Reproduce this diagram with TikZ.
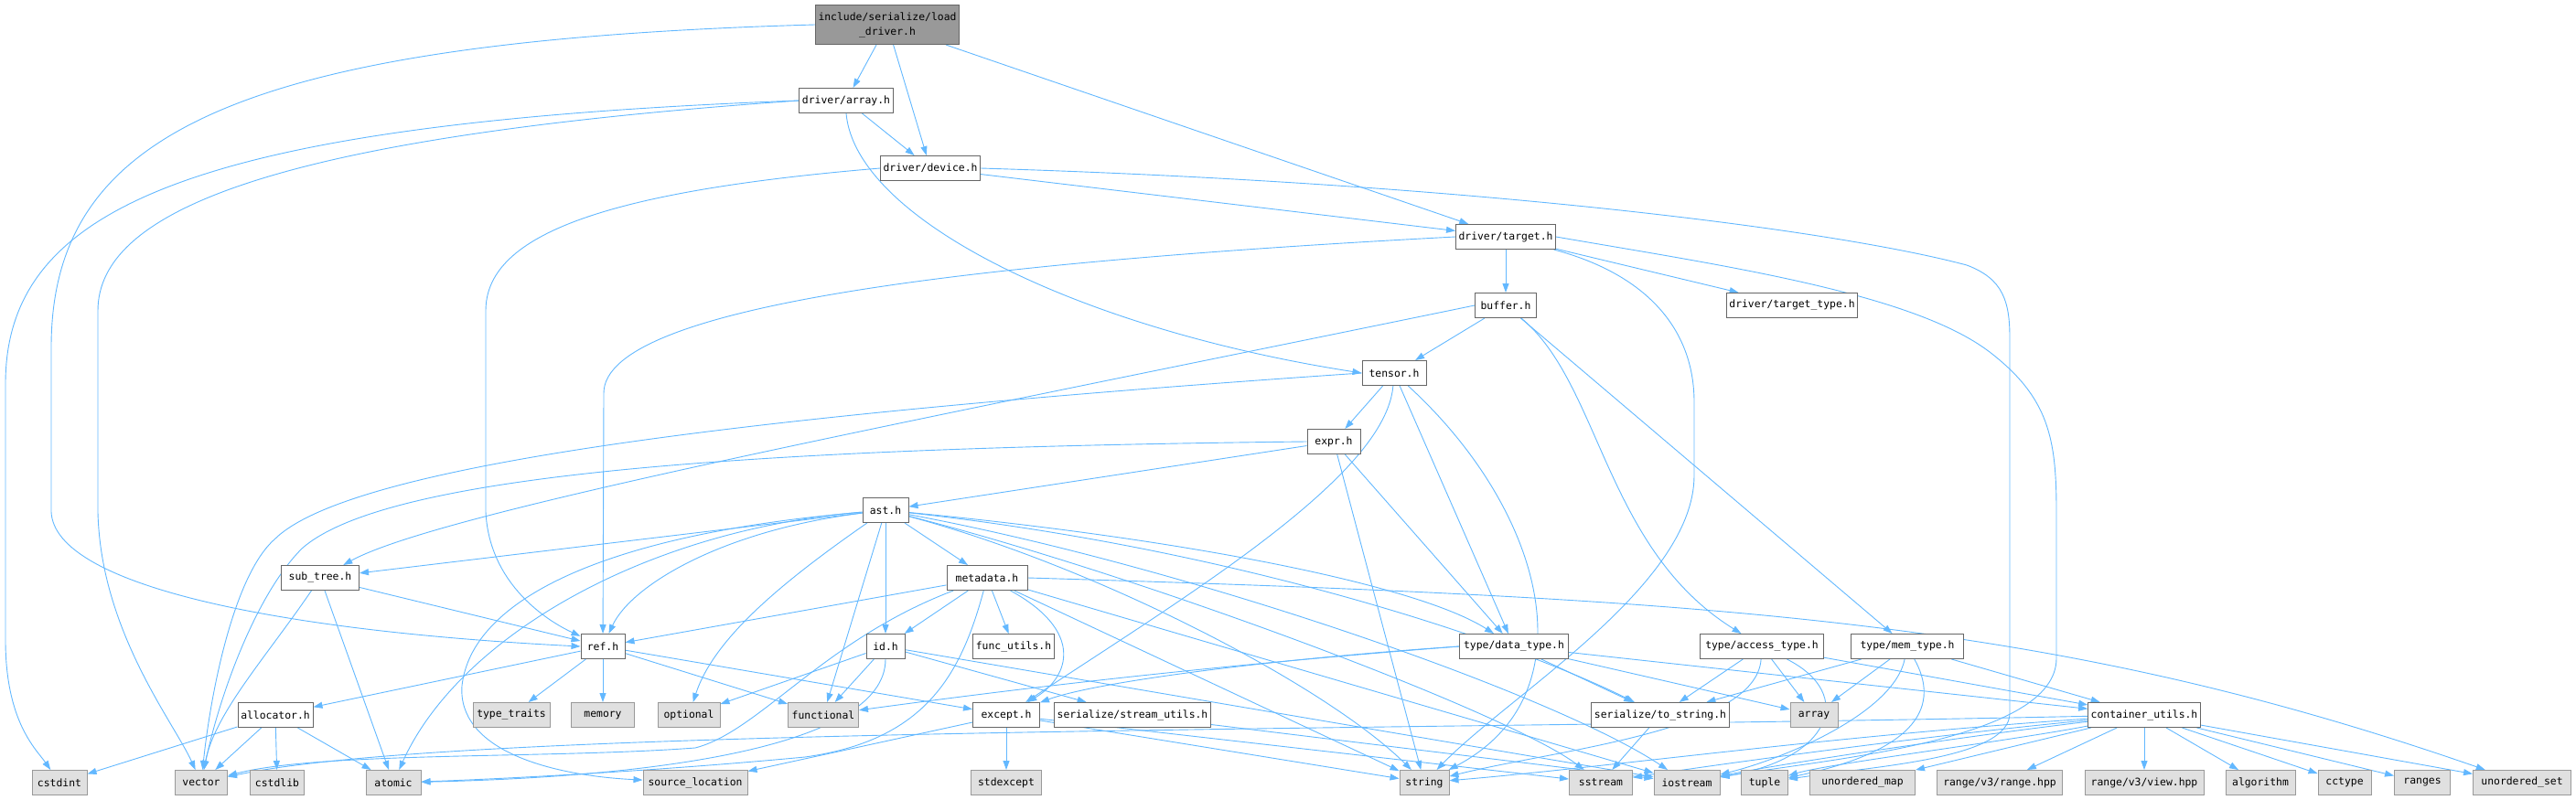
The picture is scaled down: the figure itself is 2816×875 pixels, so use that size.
\documentclass[tikz,border=0pt]{standalone}
\usepackage{fontspec}
\setmonofont{DejaVu Sans Mono}
\usepackage{xcolor}
\usepackage{tikz}
\usetikzlibrary{arrows.meta,backgrounds}

\definecolor{edgeblue}{HTML}{63B8FF}
\definecolor{nodeline}{HTML}{666666}
\definecolor{sysfill}{HTML}{E0E0E0}
\definecolor{sysline}{HTML}{999999}
\definecolor{rootfill}{HTML}{999999}

\begin{document}
\begin{tikzpicture}[
      x=1pt, y=-1pt,
      every node/.style = {font=\ttfamily\fontsize{11.4}{16}\selectfont,
                           minimum height=27pt, inner xsep=3pt, inner ysep=0pt,
                           line width=1pt},
      file/.style = {draw=nodeline, fill=white, minimum width=#1},
      sys/.style  = {draw=sysline, fill=sysfill, minimum width=#1},
      root/.style = {draw=nodeline, fill=rootfill, minimum width=#1,
                     minimum height=43pt, align=center},
      dep/.style  = {-{Triangle[length=10pt, width=7pt]}, draw=edgeblue,
                     line width=0.9pt}
    ]
    \useasboundingbox (0,0) rectangle (2816,875);

    \node (root)      [root=145pt] at (970,27)   {include/serialize/load\\\_driver.h};
    \node (arrayh)    [file=100pt] at (925,110)  {driver/array.h};
    \node (device)    [file=108pt] at (1017,184) {driver/device.h};
    \node (target)    [file=103pt] at (1646,259) {driver/target.h};
    \node (buffer)    [file=67pt]  at (1646,334) {buffer.h};
    \node (ttype)     [file=136pt] at (1959,334) {driver/target\_type.h};
    \node (tensor)    [file=70pt]  at (1524,408) {tensor.h};
    \node (expr)      [file=58pt]  at (1458,483) {expr.h};
    \node (ast)       [file=50pt]  at (968,558)  {ast.h};
    \node (subtree)   [file=85pt]  at (350,632)  {sub\_tree.h};
    \node (metadata)  [file=88pt]  at (1079,632) {metadata.h};
    \node (ref)       [file=48pt]  at (659,707)  {ref.h};
    \node (id)        [file=42pt]  at (968,707)  {id.h};
    \node (funcutils) [file=88pt]  at (1108,707) {func\_utils.h};
    \node (dtype)     [file=119pt] at (1655,707) {type/data\_type.h};
    \node (atype)     [file=135pt] at (1926,707) {type/access\_type.h};
    \node (mtype)     [file=123pt] at (2085,707) {type/mem\_type.h};

    \node (alloc)      [file=82pt]  at (301,782)  {allocator.h};
    \node (traits)     [sys=84pt]   at (559,782)  {type\_traits};
    \node (memory)     [sys=69pt]   at (659,782)  {memory};
    \node (optional)   [sys=68pt]   at (753,782)  {optional};
    \node (functional) [sys=77pt]   at (900,782)  {functional};
    \node (except)     [file=73pt]  at (1100,782) {except.h};
    \node (streamu)    [file=157pt] at (1238,782) {serialize/stream\_utils.h};
    \node (tostr)      [file=135pt] at (1815,782) {serialize/to\_string.h};
    \node (array)      [sys=52pt]   at (1983,782) {array};
    \node (cutils)     [file=119pt] at (2344,782) {container\_utils.h};

    \node (cstdint)   [sys=60pt]  at (65,856)   {cstdint};
    \node (vector)    [sys=57pt]  at (220,856)  {vector};
    \node (cstdlib)   [sys=59pt]  at (303,856)  {cstdlib};
    \node (atomic)    [sys=60pt]  at (430,856)  {atomic};
    \node (srcloc)    [sys=114pt] at (760,856)  {source\_location};
    \node (stdexcept) [sys=77pt]  at (1100,856) {stdexcept};
    \node (string)    [sys=54pt]  at (1557,856) {string};
    \node (sstream)   [sys=69pt]  at (1750,856) {sstream};
    \node (iostream)  [sys=72pt]  at (1844,856) {iostream};
    \node (tuple)     [sys=51pt]  at (1929,856) {tuple};
    \node (umap)      [sys=115pt] at (2036,856) {unordered\_map};
    \node (rrange)    [sys=137pt] at (2186,856) {range/v3/range.hpp};
    \node (rview)     [sys=130pt] at (2344,856) {range/v3/view.hpp};
    \node (algorithm) [sys=76pt]  at (2471,856) {algorithm};
    \node (cctype)    [sys=58pt]  at (2563,856) {cctype};
    \node (ranges)    [sys=61pt]  at (2648,856) {ranges};
    \node (uset)      [sys=107pt] at (2757,856) {unordered\_set};

    \begin{scope}[on background layer]
    \draw[dep] (root) -- (arrayh);
    \draw[dep] (root) -- (device);
    \draw[dep] (root) -- (target);
    \draw[dep] (root.west) .. controls (250,45) and (56,150) .. (56,380) -- (56,560)
               .. controls (60,640) and (300,690) .. (ref.west);

    \draw[dep] (arrayh) -- (device);
    \draw[dep] (arrayh.south) .. controls (935,240) and (1180,360) .. (tensor.west);
    \draw[dep] (arrayh.west) .. controls (200,135) and (6,230) .. (6,420) -- (6,700)
               .. controls (6,790) and (40,820) .. (cstdint);
    \draw[dep] (arrayh.west) .. controls (300,150) and (107,230) .. (107,340) -- (107,560)
               .. controls (110,690) and (190,790) .. (vector);

    \draw[dep] (device) -- (target);
    \draw[dep] (device.west) .. controls (650,210) and (531,260) .. (531,340) -- (531,560)
               .. controls (535,640) and (600,680) .. (ref);
    \draw[dep] (device.east) .. controls (1600,200) and (2000,250) .. (2150,290)
               .. controls (2190,305) and (2197,330) .. (2197,370) -- (2197,780)
               .. controls (2197,830) and (2050,838) .. (tuple);

    \draw[dep] (target) -- (buffer);
    \draw[dep] (target) -- (ttype);
    \draw[dep] (target.west) .. controls (1100,285) and (660,330) .. (660,430) -- (ref);
    \draw[dep] (target) .. controls (1800,300) and (1852,360) .. (1852,440) -- (1852,520)
               .. controls (1852,640) and (1650,760) .. (string);
    \draw[dep] (target.east) .. controls (1880,290) and (2090,320) .. (2175,385)
               .. controls (2240,435) and (2248,480) .. (2248,560) -- (2248,720)
               .. controls (2248,810) and (2000,830) .. (iostream);

    \draw[dep] (buffer) -- (tensor);
    \draw[dep] (buffer.west) .. controls (1000,460) and (480,560) .. (subtree);
    \draw[dep] (buffer) .. controls (1750,420) and (1754,600) .. (atype);
    \draw[dep] (buffer) -- (mtype);

    \draw[dep] (tensor) -- (expr);
    \draw[dep] (tensor.west) .. controls (800,455) and (380,510) .. (300,590)
               .. controls (255,630) and (230,760) .. (vector);
    \draw[dep] (tensor) .. controls (1515,520) and (1300,650) .. (except);
    \draw[dep] (tensor) -- (dtype);
    \draw[dep] (tensor) .. controls (1690,560) and (1740,760) .. (string);

    \draw[dep] (expr) -- (ast);
    \draw[dep] (expr.west) .. controls (800,490) and (420,520) .. (330,600)
               .. controls (280,650) and (240,760) .. (vector);
    \draw[dep] (expr) -- (string);
    \draw[dep] (expr) -- (dtype);

    \draw[dep] (ast) -- (subtree);
    \draw[dep] (ast) .. controls (790,580) and (690,640) .. (ref);
    \draw[dep] (ast) .. controls (700,580) and (500,700) .. (atomic);
    \draw[dep] (ast) .. controls (650,585) and (515,660) .. (505,750)
               .. controls (500,820) and (600,848) .. (srcloc);
    \draw[dep] (ast) .. controls (850,640) and (780,700) .. (optional);
    \draw[dep] (ast) -- (functional);
    \draw[dep] (ast) -- (id);
    \draw[dep] (ast) -- (metadata);
    \draw[dep] (ast) .. controls (1300,590) and (1550,640) .. (dtype);
    \draw[dep] (ast) .. controls (1350,600) and (1650,700) .. (tostr);
    \draw[dep] (ast) .. controls (1200,620) and (1450,750) .. (string);
    \draw[dep] (ast) .. controls (1250,630) and (1650,780) .. (sstream);
    \draw[dep] (ast) .. controls (1300,620) and (1700,760) .. (iostream);

    \draw[dep] (subtree) -- (ref);
    \draw[dep] (subtree) -- (atomic);
    \draw[dep] (subtree) .. controls (290,720) and (235,780) .. (vector);

    \draw[dep] (metadata) -- (ref);
    \draw[dep] (metadata) -- (id);
    \draw[dep] (metadata) -- (funcutils);
    \draw[dep] (metadata) .. controls (1185,690) and (1170,740) .. (except);
    \draw[dep] (metadata) -- (string);
    \draw[dep] (metadata) -- (iostream);
    \draw[dep] (metadata.east) .. controls (1900,655) and (2250,680) .. (uset);
    \draw[dep] (metadata) .. controls (900,700) and (830,800) .. (760,818)
               .. controls (600,830) and (350,822) .. (vector);
    \draw[dep] (metadata) .. controls (1050,740) and (1010,810) .. (880,828)
               .. controls (700,845) and (520,853) .. (atomic);

    \draw[dep] (ref) -- (alloc);
    \draw[dep] (ref) -- (traits);
    \draw[dep] (ref) -- (memory);
    \draw[dep] (ref) -- (functional);
    \draw[dep] (ref) -- (except);

    \draw[dep] (id) -- (optional);
    \draw[dep] (id) -- (functional);
    \draw[dep] (id) .. controls (968,820) and (700,850) .. (atomic);
    \draw[dep] (id) -- (streamu);
    \draw[dep] (id) -- (iostream);

    \draw[dep] (alloc) -- (cstdint);
    \draw[dep] (alloc) -- (vector);
    \draw[dep] (alloc) -- (cstdlib);
    \draw[dep] (alloc) -- (atomic);

    \draw[dep] (dtype.west) .. controls (1400,720) and (1200,745) .. (except);
    \draw[dep] (dtype.west) .. controls (1300,730) and (1100,755) .. (functional);
    \draw[dep] (dtype) -- (tostr);
    \draw[dep] (dtype) -- (array);
    \draw[dep] (dtype) -- (cutils);

    \draw[dep] (atype) -- (tostr);
    \draw[dep] (atype) -- (array);
    \draw[dep] (atype) .. controls (1920,800) and (1700,820) .. (string);
    \draw[dep] (atype) .. controls (2030,760) and (2000,830) .. (iostream);
    \draw[dep] (atype) -- (cutils);

    \draw[dep] (mtype) -- (tostr);
    \draw[dep] (mtype) -- (array);
    \draw[dep] (mtype) .. controls (2070,780) and (1950,830) .. (iostream);
    \draw[dep] (mtype) .. controls (2120,770) and (2100,820) .. (tuple);
    \draw[dep] (mtype) -- (cutils);

    \draw[dep] (tostr) -- (sstream);
    \draw[dep] (streamu) -- (iostream);

    \draw[dep] (except) -- (stdexcept);
    \draw[dep] (except) -- (srcloc);
    \draw[dep] (except) -- (string);
    \draw[dep] (except) -- (sstream);

    \draw[dep] (cutils) .. controls (1500,800) and (500,795) .. (vector);
    \draw[dep] (cutils) .. controls (2000,805) and (1750,840) .. (string);
    \draw[dep] (cutils) .. controls (2100,805) and (1850,840) .. (sstream);
    \draw[dep] (cutils) .. controls (2150,805) and (1950,835) .. (iostream);
    \draw[dep] (cutils) .. controls (2200,810) and (2000,835) .. (tuple);
    \draw[dep] (cutils) -- (umap);
    \draw[dep] (cutils) -- (rrange);
    \draw[dep] (cutils) -- (rview);
    \draw[dep] (cutils) -- (algorithm);
    \draw[dep] (cutils) -- (cctype);
    \draw[dep] (cutils) -- (ranges);
    \draw[dep] (cutils) -- (uset);
    \end{scope}
\end{tikzpicture}
\end{document}
